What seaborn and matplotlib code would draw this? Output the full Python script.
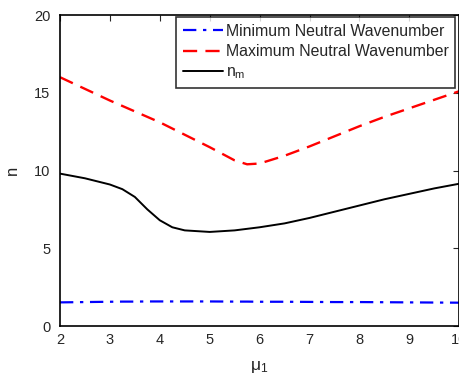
import numpy as np
import pandas as pd
import seaborn as sns
import matplotlib
matplotlib.use("Agg")
import matplotlib.pyplot as plt

# values
mu1 = [2, 2.5, 3, 3.25, 3.5, 3.75, 4, 4.25, 4.5, 5, 5.5, 5.75, 6, 6.5, 7, 7.5, 8, 8.5, 9, 9.5, 10]
n_min = [1.52, 1.54, 1.56, 1.57, 1.57, 1.58, 1.58, 1.58, 1.58, 1.58, 1.57, 1.57, 1.56, 1.56, 1.55,
         1.54, 1.54, 1.53, 1.52, 1.51, 1.50]
n_max = [16.0, 15.25, 14.5, 14.15, 13.8, 13.45, 13.1, 12.7, 12.3, 11.5, 10.65, 10.4, 10.45, 10.95,
         11.55, 12.2, 12.85, 13.45, 14.0, 14.55, 15.1]
n_m = [9.8, 9.5, 9.1, 8.8, 8.3, 7.5, 6.8, 6.35, 6.15, 6.05, 6.15, 6.25, 6.35, 6.6, 6.95, 7.35,
       7.75, 8.15, 8.5, 8.85, 9.15]

df = pd.DataFrame({"mu1": mu1, "n_min": n_min, "n_max": n_max, "n_m": n_m})

sns.set_style("white")
plt.rcParams["font.family"] = ["Liberation Sans", "DejaVu Sans"]
plt.rcParams["xtick.direction"] = "in"
plt.rcParams["ytick.direction"] = "in"

fig = plt.figure(figsize=(4.6, 3.79), dpi=100)
ax = fig.add_axes([0.1304, 0.1398, 0.868, 0.8206])

sns.lineplot(data=df, x="mu1", y="n_min", ax=ax, color="blue", linestyle=(0, (6, 3, 1.5, 3)),
             linewidth=1.6, label="Minimum Neutral Wavenumber")
sns.lineplot(data=df, x="mu1", y="n_max", ax=ax, color="red", linestyle=(0, (6, 3.5)),
             linewidth=1.7, label="Maximum Neutral Wavenumber")
sns.lineplot(data=df, x="mu1", y="n_m", ax=ax, color="black", linewidth=1.4,
             label=r"$\mathregular{n_m}$")

ax.set_xlim(2, 10)
ax.set_ylim(0, 20)
ax.set_xticks(range(2, 11))
ax.set_yticks([0, 5, 10, 15, 20])
ax.tick_params(axis="both", labelsize=10.5, length=4, width=0.8, top=True, right=True)
ax.tick_params(axis="y", pad=7)
ax.tick_params(axis="x", pad=5)
ax.set_xlabel(r"$\mathregular{\mu_1}$", fontsize=12.5, labelpad=9)
ax.set_ylabel("n", fontsize=12, labelpad=10)
for s in ax.spines.values():
    s.set_color("black")
    s.set_linewidth(1.2)

leg = ax.legend(loc="upper right", bbox_to_anchor=(0.99, 0.994), fontsize=11.4, frameon=True,
                fancybox=False, borderaxespad=0.0, handlelength=2.5, handletextpad=0.2,
                labelspacing=0.35, borderpad=0.42)
leg.get_frame().set_edgecolor("black")
leg.get_frame().set_linewidth(1.2)

fig.savefig("out.png", dpi=100)
